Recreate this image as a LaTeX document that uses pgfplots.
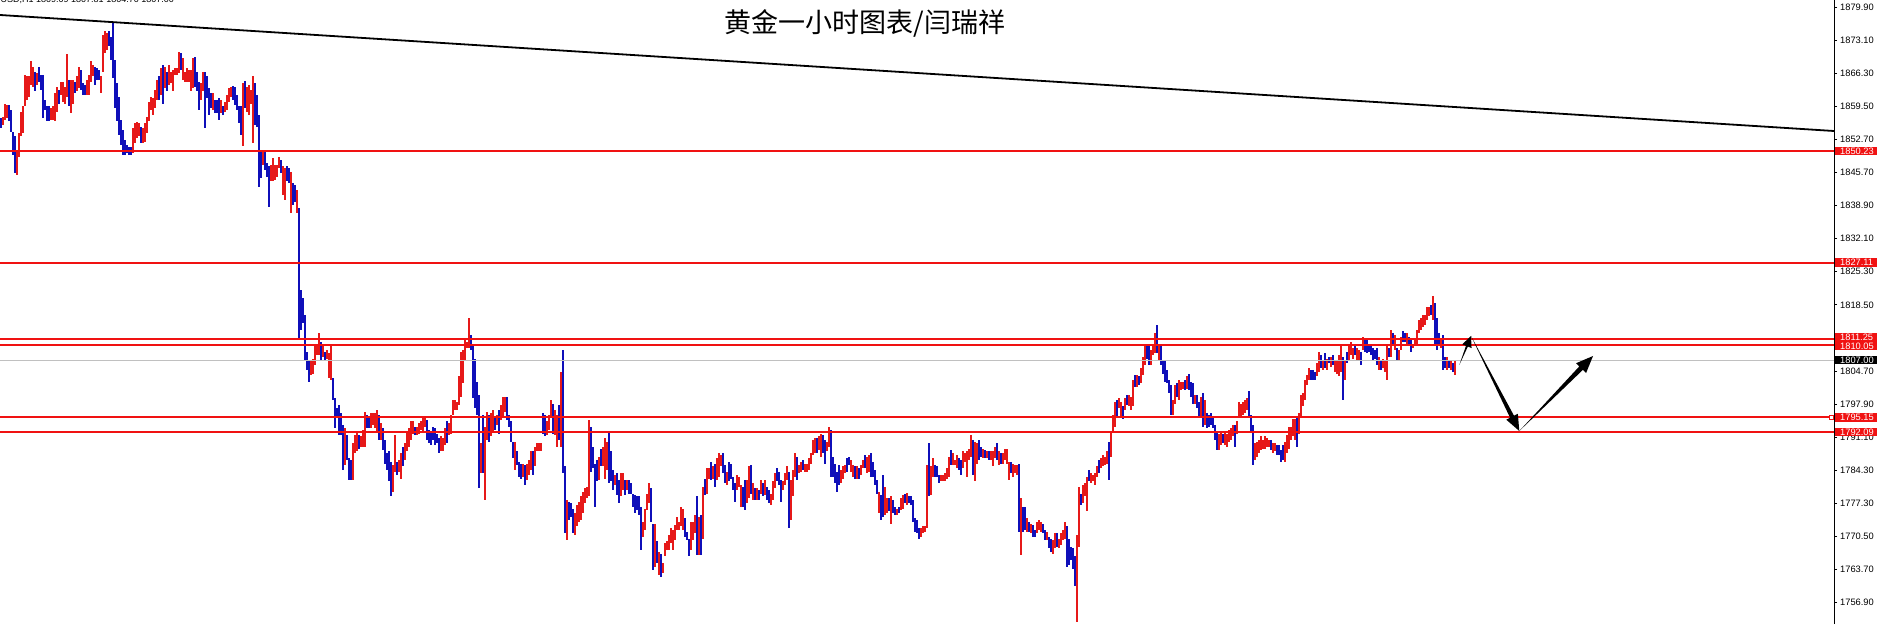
\documentclass[border=0pt]{standalone}
\usepackage{fontspec}
\setmainfont{Liberation Sans}
\newfontfamily\cjk{Noto Sans CJK SC}
\usepackage{pgfplots}
\usepackage{pgfplotstable}
\pgfplotsset{compat=1.18}

\definecolor{barup}{RGB}{230,25,25}
\definecolor{bardn}{RGB}{15,15,185}
\definecolor{lvl}{RGB}{240,18,18}

% hourly bars: low, high, up(1)/down(0)
\pgfplotstableread{
l h c
1854.9 1857.0 0
1855.6 1857.3 1
1856.6 1859.9 1
1857.0 1859.7 1
1856.3 1859.7 0
1854.2 1858.7 0
1849.4 1854.2 0
1845.6 1853.2 0
1845.2 1850.1 1
1849.0 1853.9 1
1853.2 1858.3 1
1853.9 1859.4 1
1859.4 1865.9 1
1860.7 1865.6 1
1861.4 1865.6 1
1863.8 1868.7 1
1863.5 1867.6 1
1862.5 1866.6 0
1863.8 1866.3 1
1864.5 1867.6 0
1862.8 1865.9 0
1857.0 1865.9 0
1858.7 1860.7 0
1856.3 1859.4 0
1856.3 1859.4 0
1856.6 1859.0 1
1856.6 1859.4 1
1856.3 1862.1 1
1858.3 1863.4 1
1860.0 1862.8 0
1861.8 1864.5 1
1860.4 1864.5 1
1860.0 1863.5 1
1861.4 1870.2 1
1859.4 1864.9 0
1858.0 1864.9 1
1860.0 1864.9 1
1862.1 1864.5 0
1862.5 1865.6 1
1863.2 1867.6 1
1862.8 1866.9 0
1861.8 1864.2 0
1861.8 1863.8 0
1861.8 1864.9 1
1861.8 1865.9 1
1864.5 1868.9 1
1865.6 1868.0 1
1863.8 1867.6 0
1864.9 1867.3 0
1864.9 1866.9 0
1862.1 1865.6 1
1866.6 1874.2 1
1870.4 1874.9 1
1871.1 1874.5 1
1871.8 1874.9 0
1869.0 1873.8 0
1865.2 1876.7 0
1859.0 1869.0 0
1856.3 1864.2 0
1853.5 1861.4 0
1851.4 1856.6 0
1849.4 1854.5 0
1849.4 1852.5 0
1849.7 1851.4 0
1849.4 1851.1 0
1849.4 1851.1 0
1849.7 1854.9 1
1851.8 1855.9 1
1852.8 1856.1 1
1853.2 1855.9 1
1851.8 1855.2 0
1851.8 1854.9 1
1852.1 1855.9 1
1853.9 1857.3 1
1856.3 1860.4 1
1858.7 1861.4 1
1857.6 1861.1 1
1859.0 1862.8 1
1860.7 1864.9 1
1860.7 1865.6 0
1861.8 1867.3 1
1860.0 1868.0 0
1863.2 1867.6 1
1862.5 1866.6 0
1863.8 1868.0 1
1864.2 1866.6 1
1862.5 1866.9 1
1865.9 1867.3 1
1865.9 1867.3 1
1866.3 1870.7 1
1866.9 1870.4 0
1864.9 1869.4 1
1864.5 1866.6 1
1864.5 1867.3 1
1864.5 1866.9 1
1862.5 1866.9 1
1863.2 1869.4 1
1863.5 1869.7 0
1862.5 1866.6 0
1858.7 1864.5 0
1860.7 1864.2 1
1862.5 1866.6 1
1854.9 1866.6 0
1861.1 1865.6 0
1857.6 1863.2 0
1859.0 1862.1 0
1858.7 1862.1 1
1858.0 1860.7 0
1858.0 1860.7 0
1856.6 1861.1 0
1858.0 1860.7 1
1857.6 1859.4 0
1858.3 1860.4 1
1858.7 1861.8 1
1860.4 1863.2 1
1861.4 1863.4 1
1860.7 1863.6 0
1859.7 1863.4 0
1858.7 1861.8 0
1855.9 1859.4 0
1853.5 1859.4 0
1851.3 1864.2 1
1859.0 1864.7 0
1858.3 1863.5 1
1857.6 1863.8 1
1860.0 1862.8 1
1851.8 1865.7 1
1855.6 1864.2 0
1855.2 1861.8 0
1842.8 1857.6 0
1844.6 1850.1 0
1847.3 1850.1 1
1846.3 1850.1 0
1844.9 1847.7 0
1838.7 1847.0 0
1843.9 1847.3 1
1843.9 1848.7 1
1844.2 1847.3 1
1844.9 1847.3 1
1846.6 1849.0 1
1845.6 1848.3 0
1841.1 1847.0 1
1840.1 1846.6 1
1843.9 1847.0 0
1843.5 1846.6 0
1837.3 1845.9 1
1839.0 1843.5 0
1839.7 1843.2 0
1837.3 1842.1 1
1811.5 1838.4 0
1813.2 1821.5 0
1814.6 1819.8 0
1807.0 1816.3 0
1804.9 1808.7 0
1802.5 1806.7 0
1803.9 1807.0 1
1804.2 1807.3 1
1806.0 1809.8 1
1808.0 1810.4 1
1808.0 1812.5 1
1806.7 1810.8 0
1807.7 1810.1 1
1807.0 1808.7 0
1807.3 1809.1 1
1803.2 1808.4 1
1802.9 1810.1 1
1798.7 1803.2 0
1792.9 1799.1 0
1795.3 1797.0 0
1791.5 1797.7 0
1791.5 1796.0 0
1784.3 1793.6 0
1785.3 1792.9 1
1786.3 1791.5 0
1782.2 1786.7 0
1782.2 1786.3 0
1782.2 1789.8 1
1787.7 1791.5 1
1788.1 1792.2 1
1788.7 1791.5 0
1789.1 1791.2 1
1789.1 1792.5 1
1789.1 1796.3 1
1792.9 1795.6 0
1792.9 1795.3 0
1792.9 1796.0 1
1793.6 1796.0 1
1792.9 1796.0 1
1792.2 1796.7 1
1790.5 1795.6 0
1790.5 1793.9 1
1788.4 1792.9 0
1785.6 1790.5 0
1784.3 1787.7 0
1781.9 1788.1 0
1778.8 1786.0 0
1779.8 1785.3 1
1783.9 1791.5 1
1783.2 1786.0 0
1783.9 1786.3 1
1782.5 1787.7 1
1785.0 1789.1 0
1786.3 1789.8 1
1788.1 1792.2 1
1789.1 1792.9 1
1790.5 1794.3 1
1791.8 1794.3 1
1791.5 1793.2 0
1791.5 1793.2 1
1791.8 1793.9 1
1792.5 1794.3 1
1792.2 1795.3 1
1793.2 1795.3 1
1790.5 1794.6 0
1789.8 1792.5 0
1789.4 1792.2 0
1790.5 1793.2 0
1789.4 1792.9 0
1789.8 1791.8 0
1787.7 1790.8 0
1788.1 1791.2 1
1788.1 1790.8 1
1789.4 1792.9 1
1789.8 1794.3 0
1791.5 1793.9 1
1791.8 1795.6 1
1795.6 1798.7 1
1796.7 1798.7 1
1796.7 1798.4 1
1797.7 1803.6 1
1799.4 1808.7 1
1802.2 1809.1 1
1807.0 1811.1 1
1809.4 1810.8 1
1809.4 1815.6 1
1809.1 1812.2 0
1799.1 1809.8 0
1797.0 1807.3 0
1795.6 1802.5 0
1780.5 1799.8 0
1783.6 1789.8 1
1783.6 1795.6 0
1778.1 1793.2 1
1790.5 1796.3 1
1790.1 1795.6 0
1791.2 1796.0 1
1792.2 1796.7 1
1792.5 1795.3 0
1793.6 1795.6 1
1791.8 1796.7 0
1794.6 1797.7 1
1795.3 1799.4 1
1796.3 1799.4 1
1794.6 1799.4 0
1793.2 1795.6 0
1790.1 1794.3 0
1786.7 1790.1 0
1784.3 1790.1 1
1785.3 1788.1 0
1782.9 1786.0 0
1782.5 1785.6 0
1782.9 1785.6 1
1781.2 1785.3 0
1782.2 1785.6 1
1783.2 1786.3 1
1784.3 1788.1 1
1783.2 1788.1 0
1785.0 1789.1 1
1788.1 1789.8 1
1788.1 1789.8 1
1788.1 1789.8 1
1791.8 1796.0 0
1791.2 1795.6 0
1791.5 1794.3 1
1792.5 1795.6 1
1795.3 1798.7 1
1791.8 1798.0 0
1791.5 1796.7 1
1789.1 1795.6 1
1790.5 1797.7 0
1789.1 1804.6 1
1783.6 1809.1 0
1771.2 1785.0 0
1769.8 1778.1 1
1773.9 1777.7 0
1774.6 1777.4 0
1771.2 1776.3 0
1770.8 1775.3 1
1772.6 1777.0 1
1773.6 1777.7 1
1773.9 1778.8 1
1775.3 1779.8 1
1777.4 1780.5 1
1778.4 1780.8 1
1778.8 1794.6 1
1783.9 1793.2 0
1784.6 1789.1 0
1776.7 1785.6 0
1781.9 1786.3 0
1782.2 1787.0 1
1785.0 1788.7 0
1785.0 1789.1 1
1782.5 1790.8 1
1784.3 1790.1 1
1781.5 1792.2 0
1781.9 1788.1 0
1780.1 1784.3 0
1781.2 1783.2 1
1779.1 1783.6 0
1777.4 1782.2 0
1778.8 1783.6 1
1780.1 1783.6 1
1779.1 1782.2 0
1780.1 1782.2 1
1779.4 1782.2 0
1779.4 1781.5 0
1776.7 1779.4 0
1775.3 1779.1 0
1776.0 1778.8 0
1775.0 1778.8 0
1767.7 1776.7 0
1770.5 1773.6 1
1771.9 1776.3 1
1776.0 1779.4 1
1777.4 1781.5 1
1773.6 1780.5 0
1763.6 1773.2 0
1764.3 1773.2 1
1765.0 1769.5 0
1762.6 1767.4 1
1762.2 1767.0 0
1762.9 1765.0 1
1766.4 1769.1 1
1767.7 1769.5 1
1767.7 1770.8 1
1769.1 1772.2 1
1767.7 1771.9 1
1769.8 1772.9 1
1771.9 1774.6 1
1771.9 1773.6 1
1772.6 1776.7 1
1771.9 1776.3 1
1770.5 1774.3 0
1769.8 1771.5 0
1766.4 1770.1 0
1767.7 1773.6 1
1769.8 1773.6 1
1771.2 1775.0 1
1766.7 1778.8 0
1766.7 1774.6 1
1766.7 1775.0 0
1770.1 1780.8 1
1779.1 1782.5 0
1779.4 1784.6 1
1782.5 1784.6 1
1782.2 1786.0 0
1782.5 1785.0 1
1780.8 1785.6 0
1782.2 1786.7 1
1782.9 1787.7 1
1785.0 1787.4 1
1783.6 1787.7 0
1781.5 1785.3 0
1781.2 1783.9 1
1781.9 1786.0 0
1782.5 1785.6 0
1780.1 1782.9 0
1777.7 1781.5 0
1780.1 1783.2 1
1780.8 1782.9 1
1776.7 1781.2 1
1776.7 1780.8 0
1776.0 1782.2 0
1777.4 1782.2 1
1778.4 1785.0 1
1779.4 1785.3 0
1778.1 1781.5 1
1778.1 1780.5 0
1778.1 1780.5 1
1778.1 1780.1 0
1779.4 1782.2 1
1778.8 1781.5 0
1779.1 1782.2 1
1778.1 1780.8 0
1777.4 1780.1 0
1777.0 1779.4 1
1778.1 1781.9 1
1780.5 1783.6 1
1781.9 1784.6 0
1781.2 1783.9 0
1777.7 1782.2 0
1780.1 1781.9 1
1781.2 1783.6 1
1782.2 1785.0 1
1772.2 1783.9 0
1773.9 1782.2 1
1778.8 1784.3 1
1782.9 1787.7 1
1782.2 1787.0 0
1783.6 1785.3 1
1783.9 1786.0 1
1784.3 1786.3 0
1783.9 1785.6 1
1783.9 1785.6 1
1784.3 1786.7 1
1785.6 1787.7 1
1787.4 1790.5 1
1787.7 1790.8 1
1787.7 1790.8 0
1788.4 1791.2 1
1787.0 1791.8 1
1787.7 1791.5 0
1785.6 1790.5 0
1788.1 1790.1 1
1789.1 1793.2 1
1782.9 1792.5 0
1782.9 1787.0 0
1781.5 1785.6 0
1779.8 1783.9 0
1781.2 1785.3 0
1781.5 1784.3 1
1782.5 1785.0 1
1783.6 1785.3 1
1783.9 1786.7 0
1785.3 1787.0 0
1783.9 1786.3 1
1782.9 1785.3 1
1782.5 1785.0 0
1782.5 1785.0 1
1782.5 1784.6 0
1783.2 1785.3 1
1784.6 1786.3 1
1784.6 1787.4 0
1783.6 1787.0 1
1783.9 1787.4 1
1782.9 1787.7 0
1782.9 1786.0 0
1781.2 1784.3 0
1779.4 1782.2 0
1775.3 1779.8 1
1773.9 1779.1 0
1774.6 1783.2 0
1775.0 1780.8 1
1775.3 1778.4 1
1775.7 1778.4 0
1773.2 1778.8 1
1775.3 1778.1 0
1775.0 1776.7 0
1775.0 1776.3 1
1775.3 1776.7 0
1776.0 1778.4 1
1776.3 1779.1 1
1777.4 1779.4 0
1777.0 1779.6 1
1777.4 1778.8 0
1777.0 1778.8 0
1773.6 1778.1 0
1771.5 1774.3 0
1771.2 1773.9 0
1770.1 1772.2 0
1770.5 1772.2 1
1771.2 1772.6 1
1771.5 1772.6 1
1772.2 1785.3 1
1778.8 1789.8 0
1779.1 1785.0 1
1782.9 1786.7 1
1782.9 1785.3 0
1782.9 1785.0 0
1781.5 1783.2 0
1781.9 1783.2 1
1781.9 1783.2 1
1781.9 1783.6 1
1782.5 1784.6 1
1782.9 1787.0 1
1785.3 1788.4 0
1785.3 1787.7 1
1785.3 1786.3 1
1784.6 1787.4 1
1784.3 1786.7 0
1783.2 1786.3 0
1784.6 1788.1 1
1786.0 1787.7 1
1782.9 1788.1 1
1786.3 1788.7 1
1787.0 1791.5 1
1783.2 1790.5 0
1781.9 1790.1 1
1785.6 1789.8 1
1786.3 1790.5 0
1787.0 1789.1 0
1786.7 1788.7 1
1786.7 1788.4 0
1786.7 1788.1 1
1786.3 1788.1 0
1786.3 1788.1 1
1785.0 1788.1 1
1786.7 1789.1 1
1786.3 1789.8 0
1785.3 1788.1 1
1785.6 1787.7 0
1785.6 1787.7 1
1786.3 1788.7 1
1785.6 1788.7 1
1782.2 1786.0 1
1783.6 1786.0 0
1782.9 1785.6 1
1783.6 1785.3 1
1783.2 1785.3 1
1771.5 1785.6 0
1766.7 1778.4 1
1771.5 1776.7 0
1771.9 1776.7 0
1771.5 1774.3 1
1771.5 1773.6 0
1771.2 1773.2 1
1770.5 1772.9 0
1770.5 1771.9 0
1771.2 1773.6 1
1771.9 1773.9 1
1771.5 1773.6 1
1771.2 1773.2 0
1769.8 1771.9 0
1769.8 1771.5 1
1768.1 1770.5 0
1767.4 1770.1 0
1767.0 1769.8 1
1768.1 1771.2 1
1768.4 1771.2 0
1768.1 1770.1 1
1768.8 1771.2 1
1769.8 1771.9 1
1770.1 1773.6 1
1764.3 1772.6 0
1764.6 1770.1 0
1765.7 1768.4 0
1763.9 1768.1 0
1760.2 1766.4 0
1752.9 1770.8 1
1768.4 1780.8 1
1777.0 1779.4 0
1777.4 1781.2 1
1778.8 1781.5 1
1775.7 1782.9 1
1781.9 1784.3 0
1781.5 1783.6 1
1781.9 1783.2 1
1781.2 1783.6 1
1782.9 1785.0 1
1783.6 1786.3 0
1784.6 1786.7 1
1785.0 1787.4 1
1785.3 1787.0 1
1785.6 1788.1 1
1782.2 1790.1 0
1787.0 1792.2 1
1792.2 1795.6 1
1793.2 1798.4 1
1795.3 1798.7 0
1797.0 1799.1 1
1795.3 1798.4 1
1794.9 1797.4 0
1796.7 1799.1 1
1797.7 1799.8 0
1797.4 1799.8 1
1796.7 1799.4 1
1797.4 1802.9 1
1801.5 1803.9 0
1801.5 1803.9 1
1801.8 1803.6 0
1802.2 1805.3 1
1803.9 1807.7 1
1806.0 1809.8 1
1807.3 1810.4 0
1806.0 1810.4 0
1806.0 1809.1 1
1808.0 1810.4 1
1808.4 1812.5 1
1808.4 1814.2 0
1806.7 1810.4 1
1806.0 1810.1 0
1804.2 1807.0 0
1802.5 1806.7 0
1802.2 1804.9 0
1800.1 1802.9 0
1795.6 1801.8 0
1795.6 1798.7 1
1798.0 1801.8 1
1799.4 1802.2 0
1798.7 1802.9 1
1800.8 1802.5 1
1801.1 1802.5 1
1800.8 1802.9 0
1801.1 1803.6 1
1800.8 1804.2 0
1799.4 1802.5 0
1798.0 1802.2 0
1798.0 1799.8 1
1797.0 1799.8 0
1795.3 1798.4 0
1795.3 1799.4 1
1793.2 1800.1 0
1793.6 1798.7 1
1792.9 1796.0 0
1793.2 1795.6 0
1793.6 1796.0 0
1792.9 1795.3 0
1790.5 1793.6 0
1788.4 1792.2 0
1788.4 1791.8 1
1789.4 1792.2 1
1789.8 1791.8 0
1789.4 1792.2 1
1789.1 1791.8 1
1790.1 1792.5 1
1790.5 1792.9 1
1791.2 1793.6 1
1789.1 1793.6 0
1791.8 1794.3 1
1795.3 1798.4 1
1795.3 1798.0 1
1795.6 1798.4 1
1796.0 1798.7 1
1796.7 1799.1 1
1795.3 1800.5 0
1792.2 1795.6 0
1785.3 1793.6 0
1786.3 1789.8 1
1787.0 1790.1 1
1787.7 1790.5 1
1788.4 1791.2 1
1788.7 1790.5 1
1788.7 1791.2 1
1789.1 1790.8 1
1789.1 1790.5 1
1788.4 1790.5 0
1787.7 1789.8 1
1788.1 1789.8 1
1787.4 1789.4 0
1787.4 1789.4 0
1786.0 1788.4 0
1786.3 1789.4 0
1786.0 1790.1 1
1787.7 1791.5 1
1788.7 1793.2 1
1790.5 1793.2 1
1791.2 1794.9 1
1790.5 1794.9 1
1789.1 1795.3 0
1791.8 1796.0 1
1795.3 1799.8 1
1797.4 1800.1 1
1798.7 1802.9 1
1801.8 1803.9 1
1802.9 1805.3 1
1802.9 1804.9 0
1802.9 1804.9 0
1802.9 1804.6 0
1803.6 1806.3 1
1804.6 1808.7 1
1805.3 1808.0 0
1804.9 1806.7 1
1805.3 1808.4 0
1804.9 1807.3 1
1806.3 1807.7 0
1805.6 1807.7 1
1806.0 1808.0 0
1804.6 1807.0 1
1804.2 1806.7 1
1803.6 1808.0 1
1804.6 1810.1 1
1798.7 1807.7 0
1802.9 1807.0 1
1806.3 1808.7 0
1807.0 1809.8 1
1808.0 1810.8 1
1807.3 1809.4 1
1808.0 1810.1 0
1807.0 1809.4 1
1806.7 1809.1 1
1806.0 1808.7 0
1809.1 1811.8 1
1808.7 1811.5 0
1808.4 1811.1 0
1808.7 1810.4 0
1808.0 1810.4 0
1806.7 1809.4 0
1807.3 1809.1 0
1806.0 1809.4 0
1804.9 1807.7 1
1804.9 1807.0 0
1805.3 1807.3 1
1804.6 1807.0 1
1802.9 1809.8 1
1807.7 1809.4 0
1807.7 1813.2 1
1809.8 1812.5 0
1809.1 1812.2 1
1806.7 1809.4 0
1807.0 1809.1 1
1809.1 1811.8 1
1810.8 1812.9 0
1810.8 1812.5 0
1810.4 1812.5 1
1809.8 1811.8 0
1808.7 1811.1 0
1809.4 1810.4 1
1809.8 1811.1 1
1810.4 1813.2 1
1812.5 1815.3 1
1813.2 1815.6 1
1813.9 1816.3 1
1814.2 1816.3 1
1815.3 1818.0 1
1816.0 1818.0 1
1816.3 1818.4 0
1815.3 1820.2 1
1810.4 1818.7 0
1809.1 1815.6 0
1810.1 1812.5 0
1809.4 1811.5 1
1804.9 1812.2 0
1805.3 1807.7 0
1804.9 1807.7 1
1805.3 1807.0 0
1804.9 1806.7 1
1804.6 1806.3 0
1803.9 1807.0 1
}\bars

\pgfplotsset{
  hl/.style={draw=none, mark=none, forget plot,
    error bars/y dir=both, error bars/y explicit, error bars/error mark=none,
    error bars/error bar style={draw=#1, solid, line width=1.05pt}},
}
\tikzset{pl/.style={fill=lvl, text=white, font=\fontsize{9.3}{10}\selectfont,
  inner xsep=5pt, inner ysep=0pt, minimum height=8.5pt,
  text height=6.6pt, text depth=0pt, anchor=west}}

\begin{document}
\begin{tikzpicture}
\useasboundingbox (0,0) rectangle (1877pt,624pt);
\clip (0,0) rectangle (1877pt,624pt);
\begin{axis}[
  at={(0,0)}, anchor=south west,
  scale only axis, width=1834pt, height=624pt,
  xmin=0, xmax=1834, ymin=1752.43, ymax=1881.41,
  axis x line=none, axis y line*=right,
  axis line style={black, line width=1pt},
  ytick={1879.9,1873.067,1866.233,1859.4,1852.567,1845.733,1838.9,1832.067,1825.233,1818.4,1811.567,1804.733,1797.9,1791.067,1784.233,1777.4,1770.567,1763.733,1756.9},
  yticklabels={1879.90,1873.10,1866.30,1859.50,1852.70,1845.70,1838.90,1832.10,1825.30,1818.50,1811.70,1804.70,1797.90,1791.10,1784.30,1777.30,1770.50,1763.70,1756.90},
  tick align=outside, major tick length=3pt,
  tick style={black, line width=0.8pt},
  yticklabel style={font=\fontsize{9.3}{10}\selectfont, anchor=west, inner sep=0pt, xshift=3pt},
]
% price bars
\addplot[hl=barup, restrict expr to domain={\thisrow{c}}{0.5:1.5}]
  table[x expr=2*\coordindex+1, y expr=0.5*(\thisrow{l}+\thisrow{h}),
        y error plus expr=0.5*(\thisrow{h}-\thisrow{l}),
        y error minus expr=0.5*(\thisrow{h}-\thisrow{l})] {\bars};
\addplot[hl=bardn, restrict expr to domain={\thisrow{c}}{-0.5:0.5}]
  table[x expr=2*\coordindex+1, y expr=0.5*(\thisrow{l}+\thisrow{h}),
        y error plus expr=0.5*(\thisrow{h}-\thisrow{l}),
        y error minus expr=0.5*(\thisrow{h}-\thisrow{l})] {\bars};

% bid line and levels
\addplot[color={rgb,255:red,192;green,192;blue,192}, line width=0.8pt] coordinates {(0,1807.00) (1834,1807.00)};
\addplot[lvl, line width=2pt] coordinates {(0,1850.23) (1834,1850.23)};
\addplot[lvl, line width=2pt] coordinates {(0,1827.11) (1834,1827.11)};
\addplot[lvl, line width=2pt] coordinates {(0,1811.25) (1834,1811.25)};
\addplot[lvl, line width=2pt] coordinates {(0,1810.05) (1834,1810.05)};
\addplot[lvl, line width=2pt] coordinates {(0,1795.15) (1834,1795.15)};
\addplot[lvl, line width=2pt] coordinates {(0,1792.09) (1834,1792.09)};
% trend line
\addplot[black, line width=1.8pt] coordinates {(0,1878.31) (1834,1854.33)};

\coordinate (r1) at (axis cs:1834,1850.23);
\coordinate (r2) at (axis cs:1834,1827.11);
\coordinate (r3) at (axis cs:1834,1811.25);
\coordinate (r4) at (axis cs:1834,1810.05);
\coordinate (r5) at (axis cs:1834,1795.15);
\coordinate (r6) at (axis cs:1834,1792.09);
\coordinate (bid) at (axis cs:1834,1807.00);
\end{axis}

% price labels on the scale
\node[pl] at ([xshift=1pt]r1) {1850.23};
\node[pl] at ([xshift=1pt]r2) {1827.11};
\node[pl] at ([xshift=1pt,yshift=-1pt]r4) {1810.05};
\node[pl] at ([xshift=1pt,yshift=2pt]r3) {1811.25};
\node[pl, fill=black] at ([xshift=1pt]bid) {1807.00};
\node[pl] at ([xshift=1pt]r5) {1795.15};
\node[pl] at ([xshift=1pt]r6) {1792.09};
\draw[lvl, line width=0.8pt, fill=white] ([xshift=-4.5pt,yshift=-2pt]r5) rectangle ([xshift=-0.5pt,yshift=2pt]r5);

% annotations in pixel units of the screenshot
\begin{scope}[x=1pt, y=-1pt, shift={(0pt,624pt)}]
  \node[anchor=base west, inner sep=0pt, font=\fontsize{9}{10}\selectfont] at (-18,2.5)
    {XAUUSD,H1 1809.09 1807.81 1804.70 1807.00};
  \node[font=\cjk\fontsize{27}{27}\selectfont] at (865,23.5) {黄金一小时图表/闫瑞祥};
  \fill[black] (1459.3,365) -- (1467.82,346.57) -- (1471.53,348.07) -- (1471,336)
    -- (1462.25,344.33) -- (1465.96,345.83) -- cycle;
  \fill[black] (1471,336) -- (1510.09,417.74) -- (1506.26,419.68) -- (1519.3,431)
    -- (1517.84,413.80) -- (1514.01,415.74) -- cycle;
  \fill[black] (1519.3,431) -- (1582.87,369.87) -- (1586.08,373.02) -- (1593,356)
    -- (1576.10,363.22) -- (1579.31,366.37) -- cycle;
\end{scope}
\end{tikzpicture}
\end{document}
